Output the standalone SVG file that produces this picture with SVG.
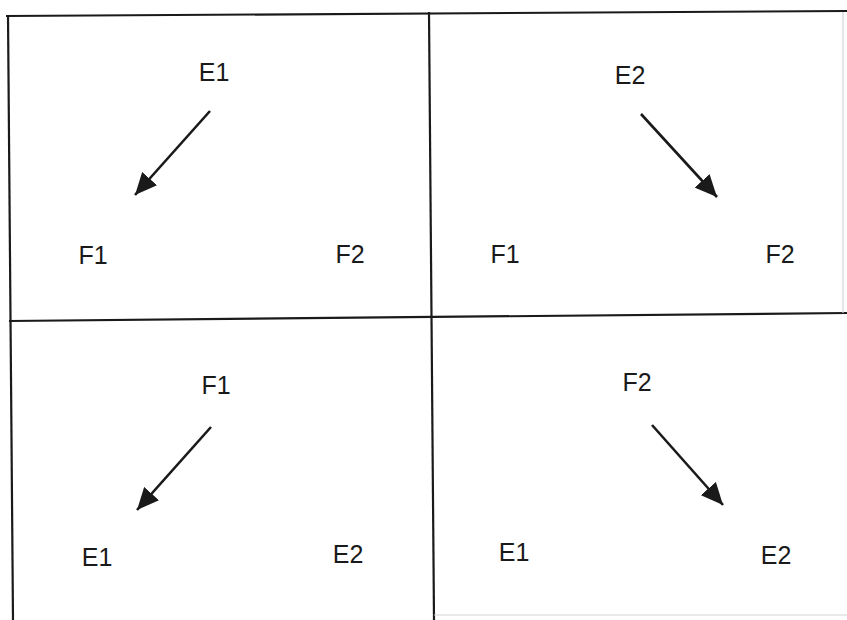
<svg xmlns="http://www.w3.org/2000/svg" width="847" height="620" viewBox="0 0 847 620">
<style>
.frame{stroke:#1a1a1a;stroke-width:2.2;fill:none}
.faint{stroke:#d4d4d4;stroke-width:1.2;fill:none}
.lbl{font-family:"Liberation Sans",Arial,sans-serif;font-size:25px;fill:#1a1a1a;text-anchor:middle}
.arr{stroke:#1a1a1a;stroke-width:2.6;fill:none;marker-end:url(#ah)}
</style>
<defs>
<marker id="ah" markerUnits="userSpaceOnUse" markerWidth="24" markerHeight="20" refX="22" refY="10" orient="auto">
<path d="M0,0 L22,10 L0,20 Z" fill="#1a1a1a"/>
</marker>
</defs>
<rect width="847" height="620" fill="#fff"/>
<g id="frame">
<line class="frame" x1="6" y1="16" x2="847" y2="11"/>
<line class="frame" x1="8" y1="15" x2="13" y2="620"/>
<line class="frame" x1="429" y1="12" x2="434" y2="620"/>
<line class="frame" x1="9" y1="321" x2="847" y2="313"/>
<line class="faint" x1="843" y1="12" x2="843" y2="313"/>
<line class="faint" x1="434" y1="615" x2="847" y2="615"/>
</g>
<g id="panel-tl">
<text class="lbl" x="214" y="81">E1</text>
<text class="lbl" x="93" y="264">F1</text>
<text class="lbl" x="350" y="263">F2</text>
</g>
<g id="panel-tr">
<text class="lbl" x="630" y="84">E2</text>
<text class="lbl" x="505" y="263">F1</text>
<text class="lbl" x="780" y="263">F2</text>
</g>
<g id="panel-bl">
<text class="lbl" x="216" y="394">F1</text>
<text class="lbl" x="97" y="566">E1</text>
<text class="lbl" x="348" y="563">E2</text>
</g>
<g id="panel-br">
<text class="lbl" x="637" y="391">F2</text>
<text class="lbl" x="514" y="561">E1</text>
<text class="lbl" x="776" y="564">E2</text>
</g>
<g id="connectors">
<line class="arr" x1="210" y1="111" x2="135" y2="195"/>
<line class="arr" x1="641" y1="114" x2="717" y2="197"/>
<line class="arr" x1="211" y1="427" x2="137" y2="510"/>
<line class="arr" x1="652" y1="425" x2="723" y2="505"/>
</g>
</svg>
